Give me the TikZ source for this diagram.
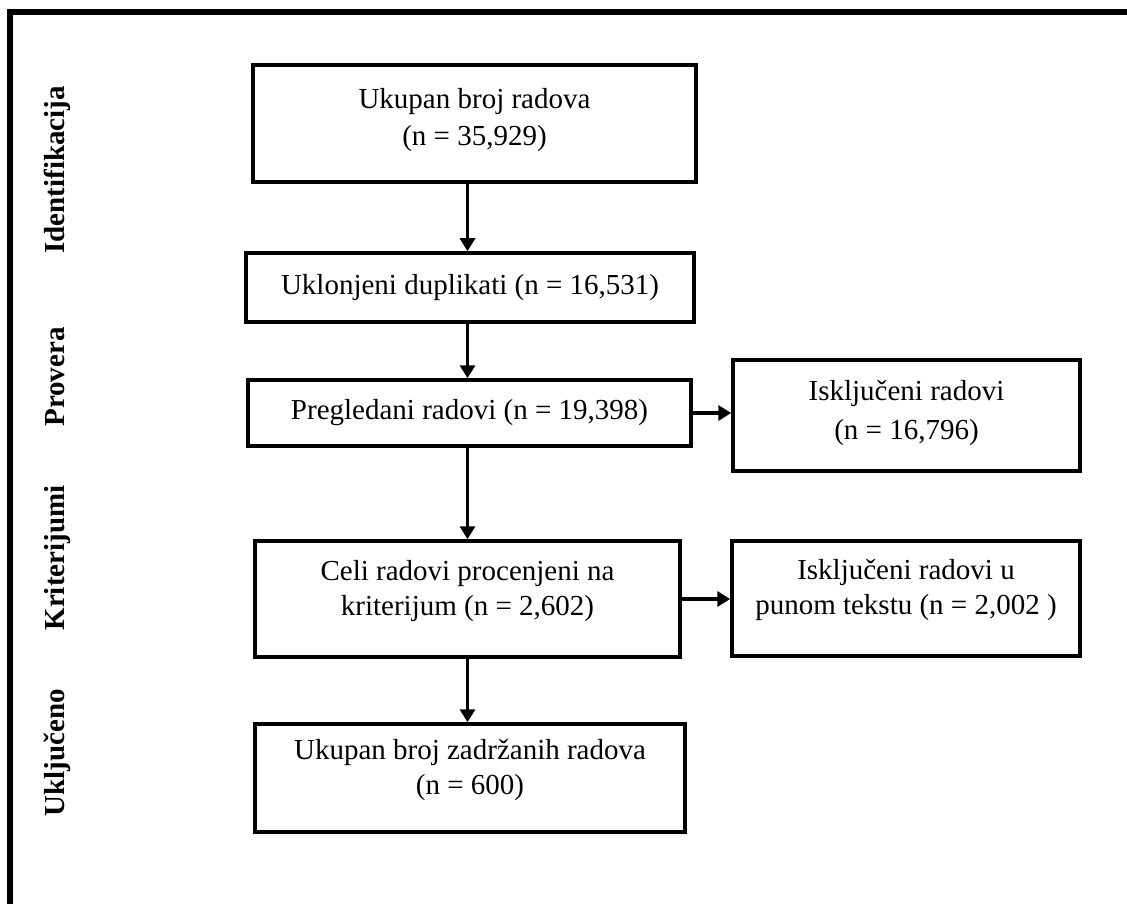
\documentclass[tikz,border=0pt]{standalone}
\usepackage{fontspec}
\setmainfont{Liberation Serif}
\usetikzlibrary{arrows.meta}

\tikzstyle{flow-box}=[draw, line width=3.5pt, align=center, inner sep=0pt, font=\fontsize{29}{35}\selectfont]
\tikzstyle{two-lines}=[text depth=23pt]
\tikzstyle{stage-label}=[rotate=90, anchor=base, font=\fontsize{29}{35}\selectfont\bfseries]
\tikzstyle{flow-arrow}=[line width=3.5pt, -{Triangle[width=15pt,length=13pt]}]

\begin{document}
\begin{tikzpicture}[x=1pt, y=-1pt]
      \useasboundingbox (0,0) rectangle (1127,904);
      \draw[line width=6pt] (1127,12) -| (10,904);

      \node (identifikacija) at (64,170) [stage-label] {Identifikacija};
      \node (provera) at (64,377) [stage-label] {Provera};
      \node (kriterijumi) at (64,558) [stage-label] {Kriterijumi};
      \node (ukljuceno) at (64,753) [stage-label] {Uključeno};

      \node (ukupno) at (474.5,123.5) [flow-box, text depth=13pt, minimum width=443pt, minimum height=117pt] {Ukupan broj radova\\[2pt](n = 35,929)};
      \node (duplikati) at (470,287.5) [flow-box, minimum width=448pt, minimum height=69pt] {Uklonjeni duplikati (n = 16,531)};
      \node (pregledani) at (469.5,413) [flow-box, minimum width=443pt, minimum height=66pt] {Pregledani radovi (n = 19,398)};
      \node (iskljuceni) at (906.5,415.5) [flow-box, text depth=12pt, minimum width=347pt, minimum height=111pt] {Isključeni radovi\\[4pt](n = 16,796)};
      \node (celi) at (467.5,599) [flow-box, two-lines, minimum width=425pt, minimum height=116pt] {Celi radovi procenjeni na\\kriterijum (n = 2,602)};
      \node (tekst) at (906,598.5) [flow-box, two-lines, minimum width=348pt, minimum height=115pt] {Isključeni radovi u\\punom tekstu (n = 2,002 )};
      \node (zadrzani) at (470,778) [flow-box, two-lines, minimum width=430pt, minimum height=108pt] {Ukupan broj zadržanih radova\\(n = 600)};

      \draw[flow-arrow] (ukupno.south -| celi.north) -- (duplikati.north -| celi.north);
      \draw[flow-arrow] (duplikati.south -| celi.north) -- (pregledani.north -| celi.north);
      \draw[flow-arrow] (pregledani.south -| celi.north) -- (celi.north);
      \draw[flow-arrow] (celi.south) -- (zadrzani.north -| celi.south);
      \draw[flow-arrow] (pregledani.east) -- (iskljuceni.west |- pregledani.east);
      \draw[flow-arrow] (celi.east) -- (tekst.west |- celi.east);
    \end{tikzpicture}
\end{document}
